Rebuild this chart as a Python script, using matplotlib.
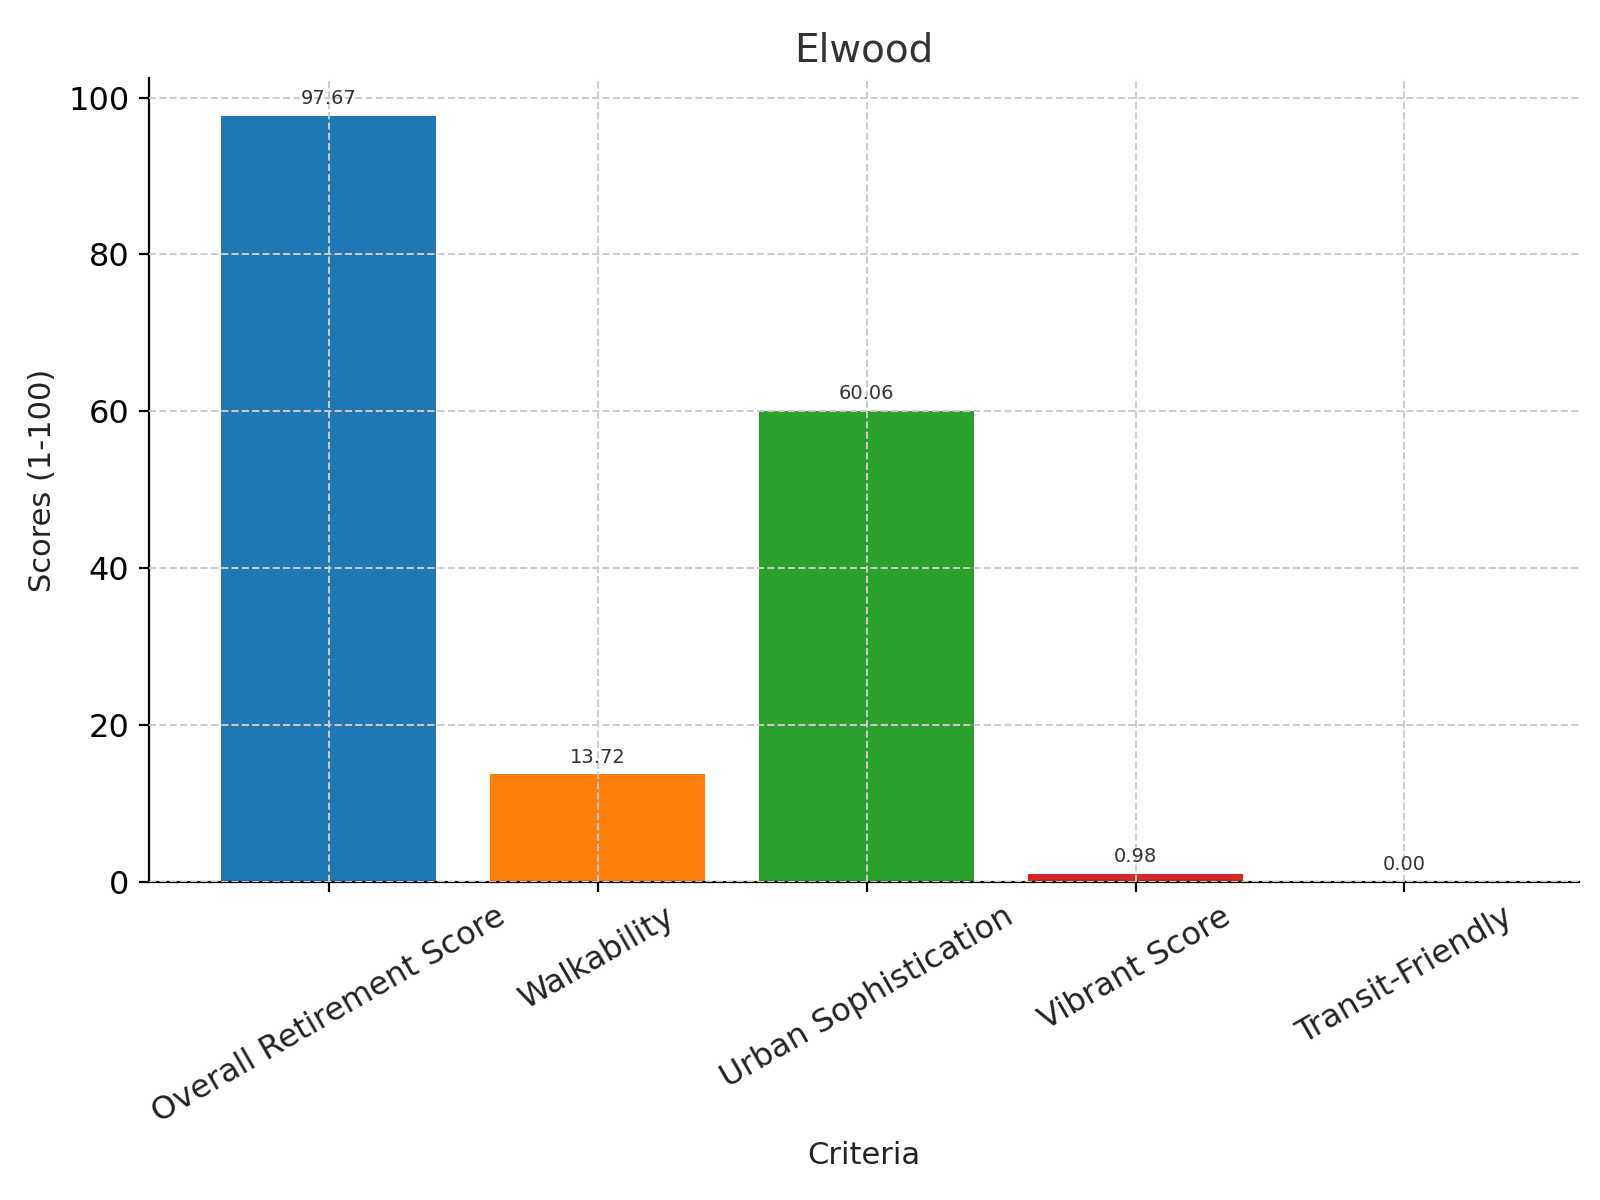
import matplotlib
matplotlib.use("Agg")
import matplotlib.pyplot as plt

categories = ["Overall Retirement Score", "Walkability", "Urban Sophistication", "Vibrant Score", "Transit-Friendly"]
values = [97.67, 13.72, 60.06, 0.98, 0.00]
colors = ["#1f77b4", "#ff7f0e", "#2ca02c", "#d62728", "#9467bd"]

fig, ax = plt.subplots(figsize=(8, 6), dpi=200)
bars = ax.bar(categories, values, color=colors, zorder=1)
for b, v in zip(bars, values):
    ax.text(b.get_x() + b.get_width() / 2, v + 1, f"{v:.2f}", ha="center", va="bottom", fontsize=7, color="#333333", zorder=3)
ax.set_title("Elwood", fontsize=14, color="#333333")
ax.set_xlabel("Criteria", fontsize=11, color="#222222")
ax.set_ylabel("Scores (1-100)", fontsize=11, color="#222222")
ax.tick_params(axis="both", labelsize=11.5)
plt.setp(ax.get_xticklabels(), rotation=30, ha="center", color="#222222")
ax.grid(True, linestyle="--", color="#cccccc", linewidth=0.7, zorder=2)
ax.set_axisbelow(False)
for b in bars:
    b.set_zorder(1)
ax.spines["top"].set_visible(False)
ax.spines["right"].set_visible(False)
ax.set_ylim(0, 102.5)
ax.set_xlim(-0.67, 4.65)
fig.subplots_adjust(left=0.093, right=0.987, top=0.935, bottom=0.265)
fig.savefig("out.png")
